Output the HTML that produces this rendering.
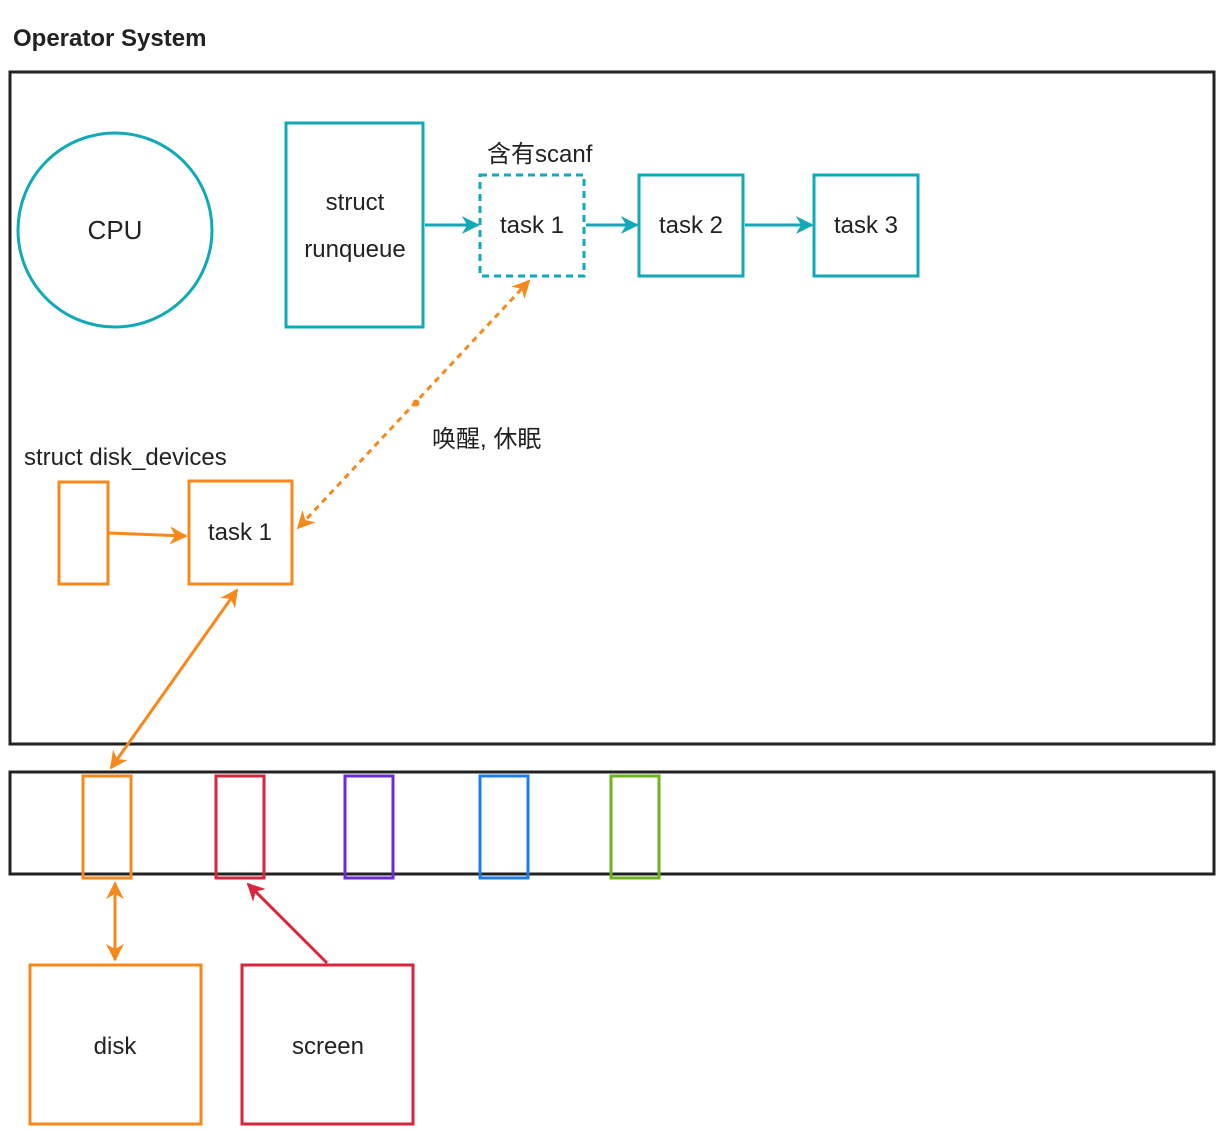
<!DOCTYPE html>
<html><head><meta charset="utf-8"><style>
html,body{margin:0;padding:0;background:#fff;}
svg{display:block;}
text{font-family:"Liberation Sans","Noto Sans CJK SC",sans-serif;fill:#222;}
</style></head><body>
<svg width="1224" height="1130" viewBox="0 0 1224 1130" xmlns="http://www.w3.org/2000/svg">
<defs>
<marker id="at" viewBox="0 0 10 10" refX="9" refY="5" markerWidth="6" markerHeight="6" orient="auto-start-reverse"><path d="M0,0 L10,5 L0,10 L3,5 z" fill="#10a9b8"/></marker>
<marker id="ao" viewBox="0 0 10 10" refX="9" refY="5" markerWidth="6" markerHeight="6" orient="auto-start-reverse"><path d="M0,0 L10,5 L0,10 L3,5 z" fill="#f7891c"/></marker>
<marker id="ar" viewBox="0 0 10 10" refX="9" refY="5" markerWidth="6" markerHeight="6" orient="auto-start-reverse"><path d="M0,0 L10,5 L0,10 L3,5 z" fill="#d9263c"/></marker>
</defs>
<text x="13" y="46" font-size="24" font-weight="bold">Operator System</text>
<rect x="10" y="72" width="1204" height="672" fill="none" stroke="#222" stroke-width="3"/>
<rect x="10" y="772" width="1204" height="102" fill="none" stroke="#222" stroke-width="3"/>
<g fill="none" stroke="#10a9b8" stroke-width="3">
<circle cx="115" cy="230" r="97"/>
<rect x="286" y="123" width="137" height="204"/>
<rect x="480" y="175" width="104" height="101" stroke-dasharray="7,5"/>
<rect x="639" y="175" width="104" height="101"/>
<rect x="814" y="175" width="104" height="101"/>
<line x1="425" y1="225" x2="478" y2="225" marker-end="url(#at)"/>
<line x1="586" y1="225" x2="637" y2="225" marker-end="url(#at)"/>
<line x1="745" y1="225" x2="812" y2="225" marker-end="url(#at)"/>
</g>
<text x="115" y="239" font-size="26" text-anchor="middle">CPU</text>
<text x="355" y="210" font-size="24" text-anchor="middle">struct</text>
<text x="355" y="257" font-size="24" text-anchor="middle">runqueue</text>
<text x="532" y="233" font-size="24" text-anchor="middle">task 1</text>
<text x="691" y="233" font-size="24" text-anchor="middle">task 2</text>
<text x="866" y="233" font-size="24" text-anchor="middle">task 3</text>
<text x="487" y="162" font-size="24">含有scanf</text>
<g fill="none" stroke="#f7891c" stroke-width="3">
<line x1="529" y1="281" x2="298" y2="528" stroke-dasharray="6,5" marker-start="url(#ao)" marker-end="url(#ao)"/>
<rect x="59" y="482" width="49" height="102"/>
<rect x="189" y="481" width="103" height="103"/>
<line x1="109" y1="533" x2="186" y2="536" marker-end="url(#ao)"/>
<line x1="237" y1="590" x2="111" y2="768" marker-start="url(#ao)" marker-end="url(#ao)"/>
<rect x="83" y="776" width="48" height="102"/>
<line x1="115" y1="883" x2="115" y2="960" marker-start="url(#ao)" marker-end="url(#ao)"/>
<rect x="30" y="965" width="171" height="159"/>
</g>
<circle cx="416" cy="403" r="3.5" fill="#f7891c"/>
<text x="432" y="447" font-size="24">唤醒, 休眠</text>
<text x="24" y="465" font-size="24">struct disk_devices</text>
<text x="240" y="540" font-size="24" text-anchor="middle">task 1</text>
<g fill="none" stroke-width="3">
<rect x="216" y="776" width="48" height="102" stroke="#d9263c"/>
<rect x="345" y="776" width="48" height="102" stroke="#6b2bd6"/>
<rect x="480" y="776" width="48" height="102" stroke="#1d7fe8"/>
<rect x="611" y="776" width="48" height="102" stroke="#6cb51a"/>
<rect x="242" y="965" width="171" height="159" stroke="#d9263c"/>
<line x1="327" y1="963" x2="248" y2="884" stroke="#d9263c" marker-end="url(#ar)"/>
</g>
<text x="115" y="1054" font-size="24" text-anchor="middle">disk</text>
<text x="328" y="1054" font-size="24" text-anchor="middle">screen</text>
</svg>
</body></html>
